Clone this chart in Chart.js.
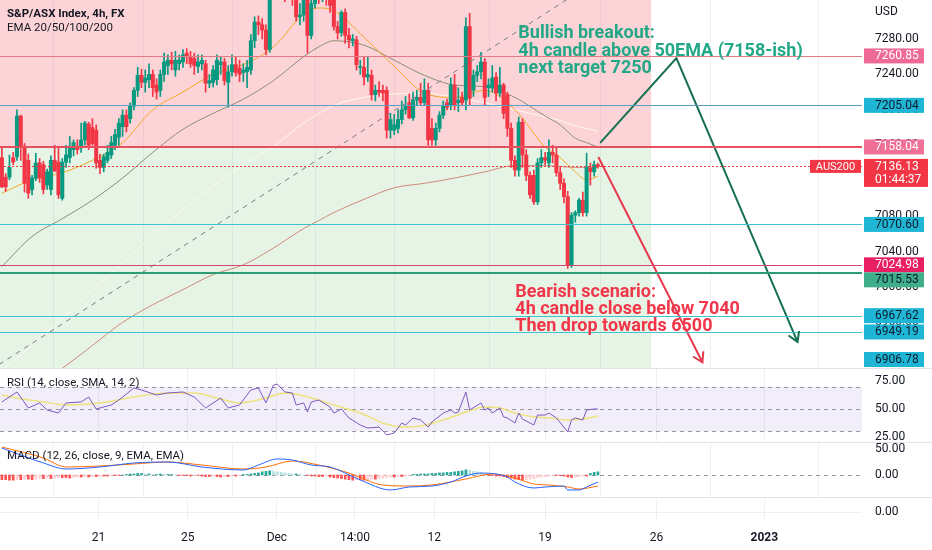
<!DOCTYPE html>
<html><head><meta charset="utf-8">
<script src="https://cdn.jsdelivr.net/npm/chart.js@4.4.1/dist/chart.umd.min.js"></script>
<style>
html,body{margin:0;padding:0;background:#fff;}
#wrap{position:relative;width:932px;height:550px;overflow:hidden;background:#fff;}
canvas{position:absolute;left:0;}
</style></head><body>
<div id="wrap">
<canvas id="cMain" width="932" height="368" style="top:0"></canvas>
<canvas id="cRsi" width="932" height="80" style="top:368px"></canvas>
<canvas id="cMacd" width="932" height="61" style="top:442px"></canvas>
<canvas id="cBot" width="932" height="53" style="top:497px"></canvas>
</div>
<script>
// ---------------- DATA ----------------
const candleOpen = [7146,7124,7124,7146,7147,7193,7159,7143,7110,7123,7140,7138,7115,7110,7143,7141,7100,7141,7146,7155,
7159,7157,7166,7184,7180,7177,7143,7135,7143,7149,7160,7169,7181,7194,7190,7204,7222,7239,7231,7234,
7240,7228,7222,7240,7250,7256,7245,7252,7254,7264,7260,7258,7249,7252,7252,7230,7231,7234,7251,7254,
7231,7243,7251,7247,7242,7243,7245,7278,7299,7296,7290,7268,7335,7350,7340,7355,7330,7345,7328,7305,
7307,7324,7284,7320,7335,7328,7338,7330,7324,7294,7287,7310,7284,7278,7279,7248,7248,7237,7239,7217,
7222,7222,7222,7177,7177,7179,7189,7200,7208,7191,7211,7214,7208,7222,7179,7166,7179,7194,7208,7205,
7228,7208,7214,7211,7294,7222,7239,7243,7254,7225,7225,7237,7219,7228,7217,7179,7143,7132,7186,7149,
7126,7126,7096,7140,7146,7140,7152,7149,7129,7117,7102,7025,7081,7084,7098,7084,7134,7130,7138];
const candleHigh = [7157,7128,7149,7152,7200,7194,7162,7150,7126,7151,7145,7142,7133,7148,7160,7158,7145,7160,7170,7166,
7166,7185,7187,7186,7190,7183,7150,7150,7160,7170,7178,7190,7200,7200,7208,7225,7248,7246,7245,7252,
7245,7235,7245,7264,7262,7265,7266,7262,7268,7269,7266,7264,7262,7262,7256,7240,7250,7262,7260,7258,
7250,7262,7260,7256,7252,7256,7285,7305,7306,7303,7296,7345,7360,7358,7362,7360,7352,7350,7340,7320,
7335,7330,7330,7342,7345,7348,7344,7340,7332,7300,7312,7314,7292,7285,7283,7256,7260,7260,7245,7228,
7232,7228,7226,7196,7195,7200,7210,7215,7218,7220,7222,7230,7235,7230,7190,7185,7198,7210,7212,7236,
7240,7225,7220,7304,7309,7245,7250,7265,7258,7235,7250,7242,7248,7230,7220,7185,7148,7192,7190,7155,
7130,7132,7145,7155,7152,7166,7160,7158,7135,7122,7108,7084,7086,7100,7107,7151,7140,7142,7140];
const candleLow = [7112,7108,7121,7138,7143,7143,7107,7100,7104,7120,7118,7105,7110,7104,7130,7100,7098,7135,7140,7148,
7150,7152,7160,7155,7160,7134,7128,7130,7140,7145,7155,7160,7170,7175,7185,7200,7215,7225,7220,7225,
7215,7212,7215,7232,7240,7245,7238,7245,7248,7252,7248,7240,7242,7245,7220,7225,7226,7228,7240,7228,
7203,7238,7238,7232,7232,7225,7240,7270,7285,7280,7262,7265,7325,7332,7326,7322,7325,7318,7300,7296,
7300,7264,7280,7315,7320,7322,7318,7310,7290,7280,7283,7275,7270,7272,7245,7240,7228,7232,7211,7210,
7215,7210,7168,7168,7172,7174,7184,7195,7190,7188,7205,7205,7205,7160,7160,7160,7175,7190,7200,7200,
7200,7198,7205,7200,7205,7215,7232,7235,7205,7215,7220,7210,7215,7190,7170,7135,7125,7125,7135,7120,
7100,7093,7093,7135,7138,7135,7140,7125,7110,7095,7021,7022,7073,7080,7080,7080,7115,7125,7134];
const candleClose = [7113,7113,7135,7141,7193,7159,7117,7106,7123,7140,7123,7110,7130,7143,7131,7104,7141,7149,7158,7163,
7155,7166,7185,7160,7162,7140,7135,7147,7152,7163,7172,7185,7194,7181,7204,7222,7239,7231,7236,7240,
7225,7220,7240,7254,7256,7252,7256,7256,7262,7260,7252,7250,7254,7256,7230,7233,7245,7256,7254,7233,
7243,7251,7242,7240,7245,7248,7278,7299,7296,7290,7268,7335,7350,7340,7355,7330,7345,7325,7305,7307,
7330,7284,7320,7335,7328,7340,7326,7318,7294,7287,7310,7284,7279,7280,7251,7249,7237,7240,7217,7222,
7220,7219,7177,7189,7183,7189,7200,7205,7191,7211,7214,7208,7222,7166,7166,7179,7194,7205,7203,7228,
7205,7211,7208,7294,7213,7239,7243,7254,7214,7228,7236,7219,7228,7196,7179,7143,7132,7186,7149,7126,
7104,7096,7140,7146,7143,7152,7149,7129,7117,7102,7025,7081,7084,7098,7084,7135,7130,7138,7136.13];

// EMA readings (bar index -> value)
const emaIdx  = [0,8,16,24,32,40,48,56,64,72,80,84,88,96,104,112,120,128,136,144,148,152,155,158];
const ema20   = [7106,7121,7129,7143,7163,7200,7220,7240,7251,7271,7308,7315,7312,7282,7249,7219,7214,7222,7200,7158,7146,7130,7121,7125];
const ema50   = [7023,7057,7077,7098,7123,7152,7178,7196,7212,7233,7260,7271,7278,7273,7256,7239,7228,7226,7214,7193,7183,7168,7163,7158];
const ema100  = [6906,6934,6965,6997,7027,7058,7087,7114,7138,7159,7185,7196,7205,7214,7218,7219,7214,7208,7200,7192,7188,7182,7179,7176];
const ema200  = [6860,6885,6908,6934,6960,6980,6997,7014,7025,7044,7066,7075,7084,7099,7112,7117,7123,7130,7137,7137,7136,7135,7135,7135];

// RSI readings
const rsiIdx = [0,4,7,10,12,15,17,21,23,25,29,31,35,37,41,44,48,51,54,58,60,63,66,68,70,72,73,75,77,78,80,81,82,84,87,88,90,92,95,97,100,102,104,106,107,109,111,113,114,117,119,120,121,123,124,127,128,129,130,132,133,134,136,137,138,141,142,144,145,147,150,151,152,154,155,157,158];
const rsiVal = [56.3,65.2,50.9,55.4,49.1,46.4,55.4,56.3,60.7,50.0,53.6,58.0,68.8,67.0,62.5,64.3,65.2,60.7,50.9,59.8,50.9,53.6,67.0,68.8,55.4,71.4,72.3,65.2,64.3,53.6,55.4,47.3,56.3,58.0,51.8,46.4,50.0,42.0,35.7,33.0,33.9,26.8,28.6,37.5,35.7,42.0,40.2,33.9,38.4,46.4,49.1,46.4,47.3,65.2,49.1,55.4,49.1,50.9,46.4,50.9,42.9,42.0,37.5,46.4,41.1,35.7,44.6,44.6,46.4,42.0,29.5,40.2,42.0,40.2,49.1,50.0,50.0];
const rsiMaIdx = [0,4,11,17,26,35,44,51,57,63,70,75,79,84,88,95,101,106,111,117,123,128,132,136,141,145,150,154,158];
const rsiMaVal = [62.5,59.8,56.3,53.6,55.4,60.7,64.3,64.3,59.8,55.4,59.8,64.3,62.5,58.0,53.6,46.4,37.5,33.9,34.8,40.2,47.3,51.8,50.9,46.4,42.9,42.0,40.2,41.1,43.8];

// MACD readings
const macdIdx = [0,11,17,26,35,44,53,64,68,73,77,82,87,95,103,108,114,119,123,127,131,134,136,141,144,149,150,153,155,158];
const macdVal = [51.9,23.1,11.5,15.4,23.1,25.0,15.4,9.6,19.2,30.8,28.8,19.2,15.4,-9.6,-28.8,-23.1,-21.2,-13.5,-1.9,3.8,1.9,-3.8,-13.5,-25.0,-23.1,-21.2,-28.8,-28.8,-23.1,-13.5];
const signalIdx = [0,11,17,26,35,44,53,64,70,77,84,92,101,108,114,123,130,136,141,145,150,153,158];
const signalVal = [53.8,32.7,15.4,17.3,21.2,25.0,19.2,11.5,15.4,26.9,19.2,3.8,-19.2,-21.2,-19.2,-7.7,1.9,-5.8,-17.3,-19.2,-23.1,-26.9,-21.2];
const macdHist = [-9,-9,-10,-10,-9,-9,-8,-8,-9,-8,-7,
-7,-6,-7,-6,-5,-5,
-5,-6,-5,-4,-4,-3,-4,-3,-3,-2,
-2,-2,-1,-1,-1,0,1,
2,2,3,3,2,2,1,
1,2,1,1,1,0,-1,
-1,-1,-2,-1,-1,-2,
-3,-3,-2,-3,-4,-3,-3,-2,-2,-1,
1,1,2,3,
4,6,7,8,7,6,5,4,
3,2,2,1,0,
-1,-2,-2,-3,-3,-2,
-4,-5,-6,-7,-8,-9,-10,-9,-9,
-10,-9,-8,-8,-7,-6,-5,-4,
-4,-3,-3,-2,-1,
1,1,2,2,2,
3,3,4,4,5,5,6,7,8,10,
9,7,6,4,2,
-1,-1,-2,-2,-3,
-5,-6,-8,-9,-10,-9,-8,
-7,-5,-4,-3,-2,
-1,-1,-1,-2,
-4,-5,-4,
-3,-2,-2,
3,5,6];

// Time axis ticks (bar index of the date) and labels
const timeTickIdx = [25.6,49.3,72.9,93.6,114.6,144.0,173.5,202.1];
const timeTickLabels = ['21','25','Dec','14:00','12','19','26','2023'];

// Price axis
const priceTicks = [7280,7240,7200,7160,7120,7080,7040,7000,6960,6920];
const lastPrice = 7136.13;
const lastCountdown = '01:44:37';
const symbolName = 'AUS200';

// Horizontal levels drawn on the chart
const levelVals = [7260.85,7205.04,7158.04,7070.60,7024.98,7015.53,6967.62,6949.19,6906.78];

// Drawings (bar index / price)
const trendIdx = [-3,160];
const trendVal = [6906.2,7352.5];
const bullArrowIdx = [158.6,178.8,210.9];
const bullArrowVal = [7162.6,7258.5,6938];
const bearArrowIdx = [158.1,185.7];
const bearArrowVal = [7146.8,6915];
const zoneStartIdx = -5, zoneEndIdx = 172.1;
const zoneSplit = 7158.04, zoneTop = 7500, zoneBottom = 6800;
const bullText = ['Bullish breakout:','4h candle above 50EMA (7158-ish)','next target 7250'];
const bullTextAt = [136.9,7286];
const bearText = ['Bearish scenario:','4h candle close below 7040','Then drop towards 6500'];
const bearTextAt = [136.1,6994.3];

// ---------------- STYLE ----------------
const UP = '#089981', DOWN = '#f23645';
const levelLineColor = ['#e37a88','#5a9ec6','#e9505f','#3fc3d2','#d44773','#2e9c74','#3fc3d2','#3fc3d2','#3fc3d2'];
const levelLineWidth = [1,1,2,1,1,2,1,1,1];
const levelLabelBg = ['#ef6a96','#1fb6d6','#f07098','#1fb6d6','#e91e63','#3fae8b','#1fb6d6','#1fb6d6','#1fb6d6'];
const levelLabelFg = ['#fff','#0c1a2b','#fff','#0c1a2b','#fff','#0c1a2b','#0c1a2b','#0c1a2b','#0c1a2b'];
const TXT = '#131722';
const FONT = 'Roboto';

Chart.defaults.font.family = FONT;
Chart.defaults.color = TXT;
Chart.defaults.animation = false;

const X_MIN = -0.5, X_MAX = 228;

function xScale(showLabels){
  return {
    type:'linear', min:X_MIN, max:X_MAX, offset:false,
    afterBuildTicks(s){ s.ticks = timeTickIdx.map(v=>({value:v})); },
    afterFit(s){ s.height = showLabels ? 29 : 0; s.paddingLeft = 0; s.paddingRight = 0; },
    grid:{ color:'rgba(42,46,57,0.07)', drawTicks:false },
    border:{ display:false },
    ticks:{ display:showLabels, padding:10, maxRotation:0, autoSkip:false, color:TXT,
      font:(c)=>({family:FONT, size:12, weight: timeTickLabels[c.index]==='2023' ? 'bold' : 'normal'}),
      callback:(v,i)=>timeTickLabels[i] }
  };
}
function yScale(min,max,tickVals,gridColor){
  return {
    position:'right', min, max,
    afterBuildTicks(s){ s.ticks = tickVals.map(v=>({value:v})); },
    afterFit(s){ s.width = 70; s.paddingTop = 0; s.paddingBottom = 0; },
    grid:{ display: !!gridColor, color: gridColor || 'transparent', drawTicks:false },
    border:{ display:false },
    ticks:{ padding:13, color:TXT, font:{family:FONT,size:12}, callback:v=>Number(v).toFixed(2) }
  };
}
function pts(idx, vals){ return idx.map((x,k)=>({x, y:vals[k]})); }
function lineDs(idx, vals, color, width, order, extra){
  return Object.assign({ type:'line', data:pts(idx,vals), borderColor:color, borderWidth:width, pointRadius:0,
    cubicInterpolationMode:'monotone', fill:false, order }, extra||{});
}
function separator(chart){
  const ctx = chart.ctx; ctx.save(); ctx.strokeStyle = '#e0e3eb'; ctx.lineWidth = 1;
  ctx.beginPath(); ctx.moveTo(0,0.5); ctx.lineTo(chart.width,0.5); ctx.stroke(); ctx.restore();
}
function hline(chart, val, color, width, dash){
  const {ctx, chartArea:a, scales:{y}} = chart; const py = Math.round(y.getPixelForValue(val)) + (width%2 ? 0.5 : 0);
  ctx.save(); ctx.strokeStyle = color; ctx.lineWidth = width; ctx.setLineDash(dash||[]);
  ctx.beginPath(); ctx.moveTo(a.left,py); ctx.lineTo(a.right,py); ctx.stroke(); ctx.restore();
}

// ---------------- MAIN CHART ----------------
const candleColors = candleClose.map((c,i)=> c >= candleOpen[i] ? UP : DOWN);
const mainPlugin = {
  id:'mainDeco',
  beforeDatasetsDraw(chart){
    const {ctx, chartArea:a, scales:{x,y}} = chart;
    ctx.save(); ctx.beginPath(); ctx.rect(a.left,a.top,a.right-a.left,a.bottom-a.top); ctx.clip();
    const xl = x.getPixelForValue(zoneStartIdx), xr = x.getPixelForValue(zoneEndIdx);
    const ym = y.getPixelForValue(zoneSplit), yt = y.getPixelForValue(zoneTop), yb = y.getPixelForValue(zoneBottom);
    ctx.fillStyle = 'rgba(242,54,69,0.21)'; ctx.fillRect(xl,yt,xr-xl,ym-yt);
    ctx.fillStyle = 'rgba(76,175,80,0.14)'; ctx.fillRect(xl,ym,xr-xl,yb-ym);
    ctx.restore();
  },
  afterDatasetsDraw(chart){
    const {ctx, chartArea:a, scales:{x,y}} = chart;
    ctx.save(); ctx.beginPath(); ctx.rect(a.left,a.top,a.right-a.left,a.bottom-a.top); ctx.clip();
    levelVals.forEach((v,k)=>hline(chart, v, levelLineColor[k], levelLineWidth[k]));
    hline(chart, lastPrice, '#f23645', 1, [2,2]);
    chart.data.datasets.forEach((ds,i)=>{
      if(!ds.arrowHead) return;
      const m = chart.getDatasetMeta(i).data; const p1 = m[m.length-2], p2 = m[m.length-1];
      const ang = Math.atan2(p2.y-p1.y, p2.x-p1.x), L = 11;
      ctx.strokeStyle = ds.borderColor; ctx.lineWidth = ds.borderWidth; ctx.setLineDash([]);
      ctx.beginPath();
      ctx.moveTo(p2.x + L*Math.cos(ang+Math.PI-0.55), p2.y + L*Math.sin(ang+Math.PI-0.55));
      ctx.lineTo(p2.x, p2.y);
      ctx.lineTo(p2.x + L*Math.cos(ang+Math.PI+0.55), p2.y + L*Math.sin(ang+Math.PI+0.55));
      ctx.stroke();
    });
    ctx.textBaseline = 'middle'; ctx.textAlign = 'left';
    ctx.font = 'bold 18px ' + FONT;
    ctx.fillStyle = '#22a887';
    bullText.forEach((t,k)=>ctx.fillText(t, x.getPixelForValue(bullTextAt[0]), y.getPixelForValue(bullTextAt[1]) + k*17.5));
    ctx.fillStyle = '#f2364a';
    bearText.forEach((t,k)=>ctx.fillText(t, x.getPixelForValue(bearTextAt[0]), y.getPixelForValue(bearTextAt[1]) + k*17));
    ctx.restore();
  },
  afterDraw(chart){
    const {ctx, chartArea:a, scales:{y}} = chart;
    ctx.save();
    ctx.textBaseline = 'middle'; ctx.textAlign = 'left';
    ctx.fillStyle = TXT; ctx.font = 'bold 11.5px ' + FONT; ctx.fillText('S&P/ASX Index, 4h, FX', 7, 14);
    ctx.font = '11.5px ' + FONT; ctx.fillText('EMA 20/50/100/200', 7, 28);
    ctx.font = '12px ' + FONT; ctx.fillText('USD', a.right + 13, 12);
    const labs = levelVals.map((v,k)=>({v, k, y:y.getPixelForValue(v)})).sort((p,q)=>p.y-q.y);
    const H = 15;
    for(let i=1;i<labs.length;i++){ if(labs[i].y - labs[i-1].y < H) labs[i].y = labs[i-1].y + H; }
    labs.forEach(l=>{ l.y = Math.min(l.y, a.bottom - H/2 - 1); });
    labs.forEach(l=>{
      ctx.fillStyle = levelLabelBg[l.k];
      ctx.fillRect(a.right + 2, l.y - H/2, 60, H);
      ctx.fillStyle = levelLabelFg[l.k];
      ctx.fillText(l.v.toFixed(2), a.right + 13, l.y + 0.5);
    });
    const py = y.getPixelForValue(lastPrice);
    ctx.fillStyle = '#f23645';
    ctx.fillRect(a.right + 2, py - 7.5, 64, 28);
    ctx.fillRect(a.right - 52, py - 6.5, 51, 13);
    ctx.fillStyle = '#fff';
    ctx.fillText(lastPrice.toFixed(2), a.right + 13, py + 0.5);
    ctx.fillText(lastCountdown, a.right + 13, py + 13.5);
    ctx.font = '11px ' + FONT; ctx.textAlign = 'center';
    ctx.fillText(symbolName, a.right - 26.5, py + 0.5);
    ctx.restore();
  }
};
new Chart(document.getElementById('cMain'), {
  type:'bar',
  data:{ datasets:[
    lineDs(trendIdx, trendVal, '#787b86', 1, 0, {borderDash:[5,5], cubicInterpolationMode:'default', tension:0}),
    lineDs(bullArrowIdx, bullArrowVal, '#16704f', 2, 0, {cubicInterpolationMode:'default', tension:0, arrowHead:true}),
    lineDs(bearArrowIdx, bearArrowVal, '#e8394d', 2, 0, {cubicInterpolationMode:'default', tension:0, arrowHead:true}),
    { type:'bar', data:candleOpen.map((o,i)=>({x:i, y:[o, candleClose[i]]})), backgroundColor:candleColors,
      barThickness:3.4, grouped:false, minBarLength:1, borderWidth:0, order:2 },
    { type:'bar', data:candleOpen.map((o,i)=>({x:i, y:[candleLow[i], candleHigh[i]]})), backgroundColor:candleColors,
      barThickness:1, grouped:false, borderWidth:0, order:3 },
    lineDs(emaIdx, ema20, '#f5a623', 1, 4),
    lineDs(emaIdx, ema50, '#8b8e74', 1, 5),
    lineDs(emaIdx, ema100, 'rgba(255,250,235,0.95)', 1, 6),
    lineDs(emaIdx, ema200, '#cf8a78', 1, 7)
  ]},
  options:{
    responsive:false, animation:false,
    layout:{padding:0},
    plugins:{legend:{display:false}, tooltip:{enabled:false}},
    scales:{ x:xScale(false), y:yScale(6908.5, 7324, priceTicks) }
  },
  plugins:[mainPlugin]
});

// ---------------- RSI ----------------
const rsiPlugin = {
  id:'rsiDeco',
  beforeDatasetsDraw(chart){
    const {ctx, chartArea:a, scales:{y}} = chart;
    const y70 = y.getPixelForValue(70), y30 = y.getPixelForValue(30);
    ctx.save(); ctx.fillStyle = 'rgba(126,87,194,0.1)'; ctx.fillRect(a.left, y70, a.right-a.left, y30-y70); ctx.restore();
    [70,50,30].forEach(v=>hline(chart, v, '#9598a1', 1, [4,4]));
  },
  afterDraw(chart){
    separator(chart);
    const ctx = chart.ctx; ctx.save(); ctx.fillStyle = TXT; ctx.font = '11.5px ' + FONT; ctx.textBaseline='middle';
    ctx.fillText('RSI (14, close, SMA, 14, 2)', 7, 15); ctx.restore();
  }
};
new Chart(document.getElementById('cRsi'), {
  type:'line',
  data:{ datasets:[
    lineDs(rsiIdx, rsiVal, '#7e57c2', 1, 1, {cubicInterpolationMode:'default', tension:0}),
    lineDs(rsiMaIdx, rsiMaVal, '#ede27c', 1.5, 2)
  ]},
  options:{ responsive:false, animation:false, layout:{padding:{top:1,bottom:6,left:0,right:0}},
    plugins:{legend:{display:false}, tooltip:{enabled:false}},
    scales:{ x:xScale(false), y:yScale(20.54, 85.71, [25,50,75]) } },
  plugins:[rsiPlugin]
});

// ---------------- MACD ----------------
const histColors = macdHist.map((h,i)=>{
  const prev = i>0 ? macdHist[i-1] : h;
  if(h >= 0) return h >= prev ? '#26a69a' : '#b2dfdb';
  return h <= prev ? '#ff5252' : '#ffcdd2';
});
const macdPlugin = {
  id:'macdDeco',
  beforeDatasetsDraw(chart){ hline(chart, 0, '#9598a1', 1, [4,4]); },
  afterDraw(chart){
    separator(chart);
    const ctx = chart.ctx; ctx.save(); ctx.fillStyle = TXT; ctx.font = '11.5px ' + FONT; ctx.textBaseline='middle';
    ctx.fillText('MACD (12, 26, close, 9, EMA, EMA)', 7, 14); ctx.restore();
  }
};
new Chart(document.getElementById('cMacd'), {
  type:'bar',
  data:{ datasets:[
    { type:'bar', data:macdHist.map((h,i)=>({x:i,y:h})), backgroundColor:histColors, barThickness:2, grouped:false, borderWidth:0, order:3 },
    lineDs(macdIdx, macdVal, '#2962ff', 1, 1),
    lineDs(signalIdx, signalVal, '#ff6d00', 1, 2)
  ]},
  options:{ responsive:false, animation:false, layout:{padding:{top:0,bottom:6,left:0,right:0}},
    plugins:{legend:{display:false}, tooltip:{enabled:false}},
    scales:{ x:xScale(false), y:yScale(-42.31, 63.46, [0,50]) } },
  plugins:[macdPlugin]
});

// ---------------- BOTTOM PANE + TIME AXIS ----------------
new Chart(document.getElementById('cBot'), {
  type:'line',
  data:{ datasets:[] },
  options:{ responsive:false, animation:false, layout:{padding:0},
    plugins:{legend:{display:false}, tooltip:{enabled:false}},
    scales:{ x:xScale(true), y:yScale(-9, 15, [0], 'rgba(42,46,57,0.07)') } },
  plugins:[{ id:'botDeco', afterDraw(chart){ separator(chart); } }]
});
</script>
</body></html>
